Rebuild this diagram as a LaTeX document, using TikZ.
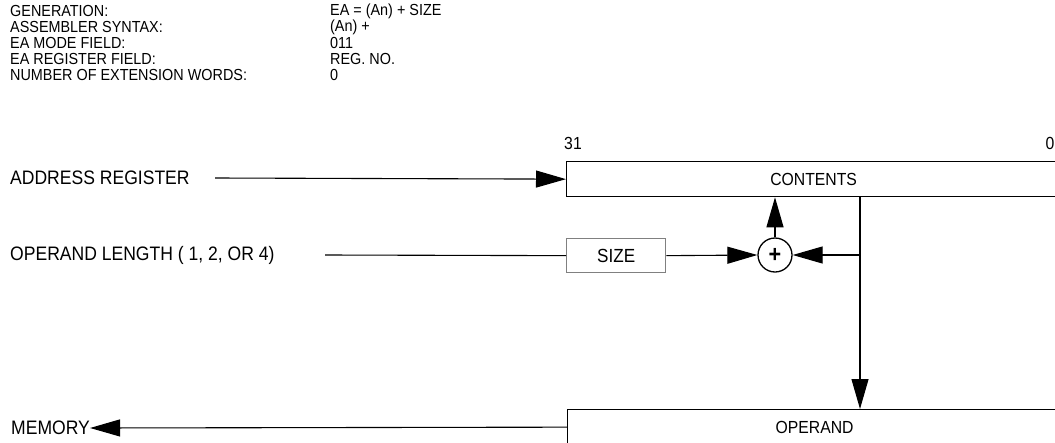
\documentclass[tikz,border=0pt]{standalone}
\usepackage{fontspec}
\setmainfont[FakeStretch=0.9]{Liberation Sans}
\usetikzlibrary{arrows.meta,positioning}
\tikzset{
  txt/.style={inner sep=0pt,font=\fontsize{17.5}{18}\selectfont},
  hdr/.style={inner sep=0pt,anchor=west,font=\fontsize{16}{16}\selectfont},
  lbl/.style={inner sep=0pt,anchor=west,font=\fontsize{19.5}{20}\selectfont},
  regbox/.style={txt,draw,line width=1.3pt,minimum width=494pt,minimum height=35pt,anchor=north west},
  sizebox/.style={draw=gray,line width=1.3pt,minimum width=99pt,minimum height=34pt,anchor=north west,
    inner sep=0pt,font=\fontsize{19}{20}\selectfont},
  adder/.style={draw,line width=1.3pt,circle,minimum size=34pt,inner sep=0pt,font=\fontsize{24}{24}\selectfont\bfseries},
  flow/.style={-{Triangle[length=30pt,width=17pt]},line width=1.1pt},
  wire/.style={line width=1.1pt},
}

\begin{document}
\begin{tikzpicture}[x=1pt,y=-1pt]
  \useasboundingbox (0,0) rectangle (1055,442);
  % header lines
  \node[hdr] (gen)   at (10,11) {GENERATION:};
  \node[hdr] (asm)   at (10,27) {ASSEMBLER SYNTAX:};
  \node[hdr] (mode)  at (10,43) {EA MODE FIELD:};
  \node[hdr] (regf)  at (10,59) {EA REGISTER FIELD:};
  \node[hdr] (ext)   at (10,75) {NUMBER OF EXTENSION WORDS:};
  \node[hdr] (genv)  at (330,11) {EA = (An) + SIZE};
  \node[hdr] (asmv)  at (330,27) {(An) +};
  \node[hdr] (modev) at (330,43) {011};
  \node[hdr] (regfv) at (330,59) {REG. NO.};
  \node[hdr] (extv)  at (330,75) {0};

  % registers
  \node[regbox] (contents) at (566,161) {CONTENTS};
  \node[regbox] (operand) at (567,409) {OPERAND};
  \node[txt] (msb) at (573,143) {31};
  \node[txt] (lsb) at (1050,143) {0};
  \node[sizebox] (size) at (566,238) {SIZE};
  \node[adder] (adder) at (775,255) {+};

  % left labels
  \node[lbl] (areg) at (10,178) {ADDRESS REGISTER};
  \node[lbl] (oplen) at (10,255) {OPERAND LENGTH ( 1, 2, OR 4)};
  \node[lbl] (mem) at (11,428) {MEMORY};
  \coordinate (aregend) at (215,178);
  \coordinate (oplenend) at (325,255);
  \coordinate (tap) at (860,196);

  % connections
  \draw[flow] (aregend) -- (contents.west);
  \draw[wire] (oplenend) -- (size.west);
  \draw[flow] (size.east) -- (adder.west);
  \draw[flow] (adder.north) -- (adder.north |- contents.south);
  \draw[flow] (tap) -- (tap |- operand.north);
  \draw[flow] (tap |- adder.east) -- (adder.east);
  \draw[flow] (operand.west) -- (mem.east);
\end{tikzpicture}
\end{document}
